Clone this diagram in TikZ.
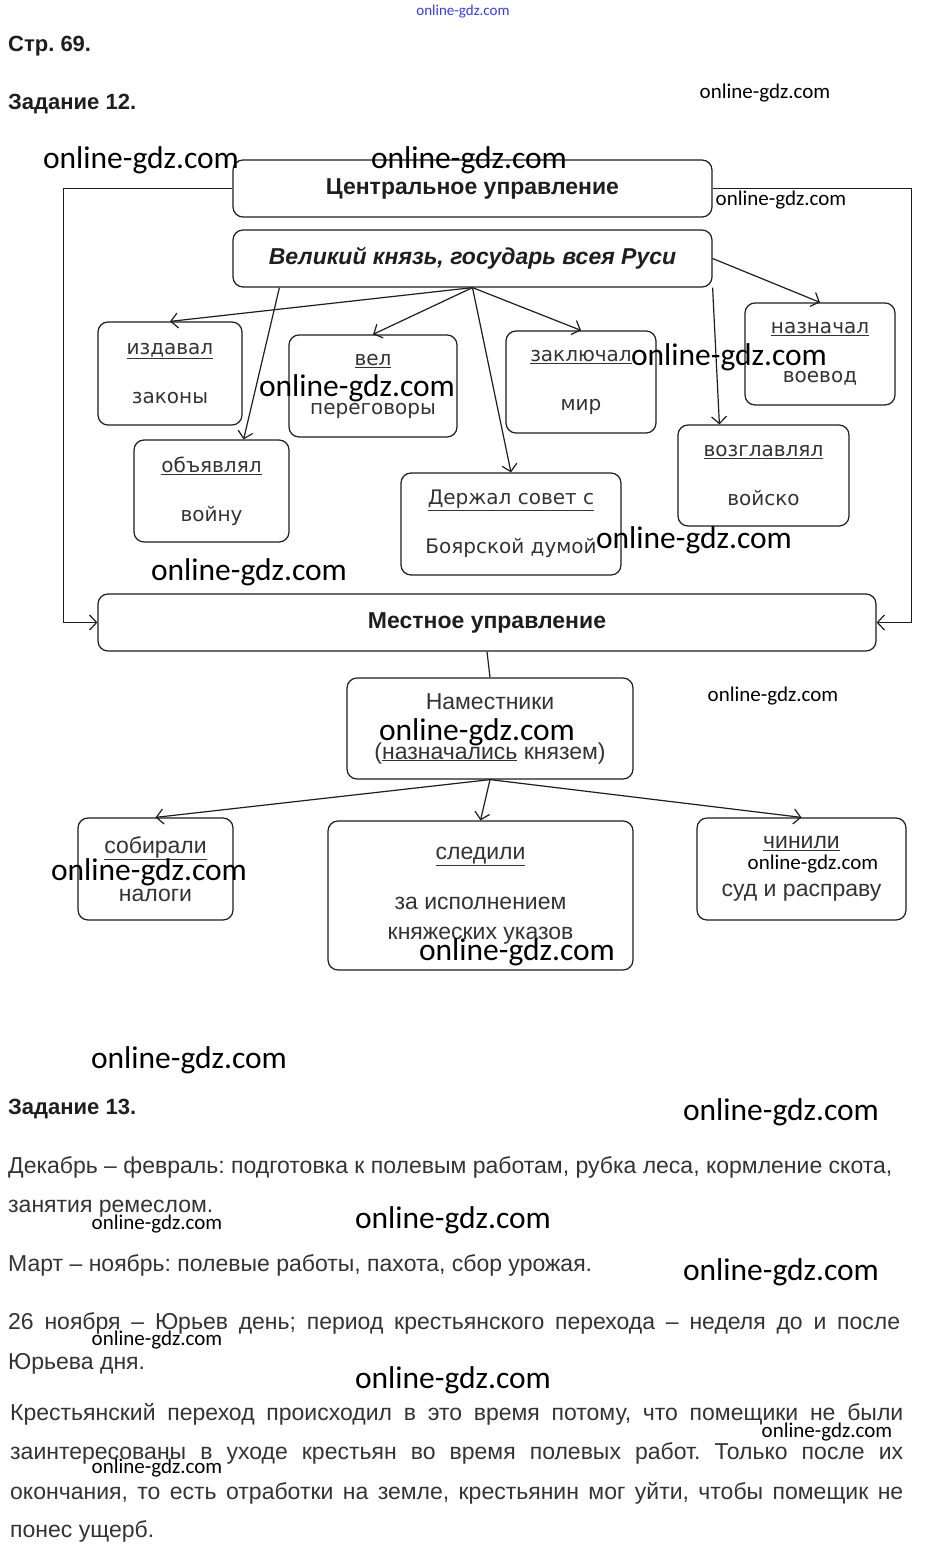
\documentclass[tikz,border=0pt]{standalone}
\usepackage{fontspec}
\setmainfont{Liberation Sans}
\newfontfamily\boxfont{DejaVu Sans}
\newfontfamily\wmfont{Carlito}
\usetikzlibrary{arrows.meta,calc}
\definecolor{inkline}{HTML}{1E1E1E}
\definecolor{inktext}{HTML}{333333}
\definecolor{wmblue}{HTML}{3A3AE0}
\frenchspacing
\tikzset{
  roundbox/.style={draw=inkline, line width=1.2pt, rounded corners=10pt, inner sep=0pt},
  headbox/.style={roundbox, minimum height=57pt, text=inkline, font=\fontsize{23}{26}\selectfont\bfseries},
  actbox/.style={roundbox, align=center, text=inktext, font=\boxfont\fontsize{20}{24}\selectfont},
  localbox/.style={roundbox, align=center, text=inktext, font=\fontsize{23}{27}\selectfont},
  arr/.style={draw=inkline, line width=1.2pt, -{Straight Barb[length=7pt,width=15pt]}},
  plain/.style={draw=inkline, line width=1.2pt},
  wmbig/.style={font=\wmfont\fontsize{31.5}{31.5}\selectfont, inner sep=0pt},
  wmsmall/.style={font=\wmfont\fontsize{21}{21}\selectfont, inner sep=0pt},
  title/.style={anchor=base west, inner sep=0pt, text=inkline, font=\fontsize{22}{24}\selectfont\bfseries},
  answer/.style={anchor=base west, inner sep=0pt, text=inktext, font=\fontsize{23}{26}\selectfont},
}

\begin{document}
\begin{tikzpicture}[x=1pt,y=-1pt]
		\useasboundingbox[fill=white] (0,0) rectangle (926,1555);
		%
		\node[title] (page) at (8,52) {Стр. 69.};
		\node[title] (task12) at (8,110) {Задание 12.};
		%
		\node[headbox, minimum width=479pt] (cent) at (472.5,188.5) {Центральное управление};
		\node[headbox, minimum width=479pt, font=\fontsize{23}{26}\selectfont\bfseries\itshape] (prince) at (472.5,258.5) {Великий князь, государь всея Руси};
		%
		\node[actbox, minimum width=144pt, minimum height=103pt] (izdaval) at (170,373.5) {\underline{издавал}\\[25pt]законы};
		\node[actbox, minimum width=168pt, minimum height=102pt] (vel) at (373,386) {\underline{вел}\\[25pt]переговоры};
		\node[actbox, minimum width=150pt, minimum height=102pt] (zakl) at (581,382) {\underline{заключал}\\[25pt]мир};
		\node[actbox, minimum width=155pt, minimum height=102pt] (obyavl) at (211.5,491) {\underline{объявлял}\\[25pt]войну};
		\node[actbox, minimum width=220pt, minimum height=102pt] (sovet) at (511,524) {\underline{Держал совет с}\\[25pt]Боярской думой};
		\node[actbox, minimum width=150pt, minimum height=102pt] (naznach) at (820,354) {\underline{назначал}\\[25pt]воевод};
		\node[actbox, minimum width=171pt, minimum height=101pt] (vozgl) at (763.5,475.5) {\underline{возглавлял}\\[25pt]войско};
		%
		\node[headbox, minimum width=778pt] (local) at (487,622.5) {Местное управление};
		\node[localbox, minimum width=286pt, minimum height=101pt] (namest) at (490,728.5) {Наместники\\[23pt](\underline{назначались} князем)};
		\node[localbox, minimum width=155pt, minimum height=102pt] (sobir) at (155.5,869) {\underline{собирали}\\[21pt]налоги};
		\node[localbox, minimum width=305pt, minimum height=149pt] (sledil) at (480.5,895.5) {\underline{следили}\\[23pt]за исполнением\\[3pt]княжеских указов};
		\node[localbox, minimum width=209pt, minimum height=102pt] (chinil) at (801.5,869) {\underline{чинили}\\[21pt]суд и расправу};
		%
		\draw[arr] (prince.south) -- (izdaval.north);
		\draw[arr] (prince.south) -- (vel.north);
		\draw[arr] (prince.south) -- (zakl.north);
		\draw[arr] (prince.south) -- (sovet.north);
		\draw[arr] ([xshift=47pt]prince.south west) -- ([xshift=-46pt]obyavl.north east);
		\draw[arr] (prince.east) -- (naznach.north);
		\draw[arr] (prince.south east) -- ([xshift=42pt]vozgl.north west);
		%
		\draw[arr] (cent.west) -| ([xshift=-34pt]local.west) -- (local.west);
		\draw[arr] (cent.east) -| ([xshift=35pt]local.east) -- (local.east);
		\draw[plain] (local.south) -- (namest.north);
		\draw[arr] (namest.south) -- (sobir.north);
		\draw[arr] (namest.south) -- (sledil.north);
		\draw[arr] (namest.south) -- (chinil.north);
		%
		\node[title] (task13) at (8,1114) {Задание 13.};
		\node[answer] (ans1) at (8,1173) {Декабрь – февраль: подготовка к полевым работам, рубка леса, кормление скота,};
		\node[answer] (ans2) at (8,1212) {занятия ремеслом.};
		\node[answer] (ans3) at (8,1271) {Март – ноябрь: полевые работы, пахота, сбор урожая.};
		\node[answer] (ans4) at (8,1329) {\makebox[892pt][s]{26 ноября – Юрьев день; период крестьянского перехода – неделя до и после}};
		\node[answer] (ans5) at (8,1369) {Юрьева дня.};
		\node[answer] (ans6) at (10,1420) {\makebox[893pt][s]{Крестьянский переход происходил в это время потому, что помещики не были}};
		\node[answer] (ans7) at (10,1459) {\makebox[893pt][s]{заинтересованы в уходе крестьян во время полевых работ. Только после их}};
		\node[answer] (ans8) at (10,1499) {\makebox[893pt][s]{окончания, то есть отработки на земле, крестьянин мог уйти, чтобы помещик не}};
		\node[answer] (ans9) at (10,1537) {понес ущерб.};
		%
		\node[wmsmall, text=wmblue, font=\wmfont\fontsize{15}{15}\selectfont] (wmtop) at (463,12) {online-gdz.com};
		\foreach \x/\y [count=\i] in {141/160, 469/160, 357/388, 729/357, 694/540, 249/572, 477/732, 149/872, 517/952, 189/1060, 781/1112, 453/1220, 781/1272, 453/1380}
			\node[wmbig] (wmb\i) at (\x,\y) {online-gdz.com};
		\foreach \x/\y [count=\i] in {765/93, 781/200, 773/696, 813/864, 157/1224, 157/1340, 827/1432, 157/1468}
			\node[wmsmall] (wms\i) at (\x,\y) {online-gdz.com};
	\end{tikzpicture}
\end{document}
